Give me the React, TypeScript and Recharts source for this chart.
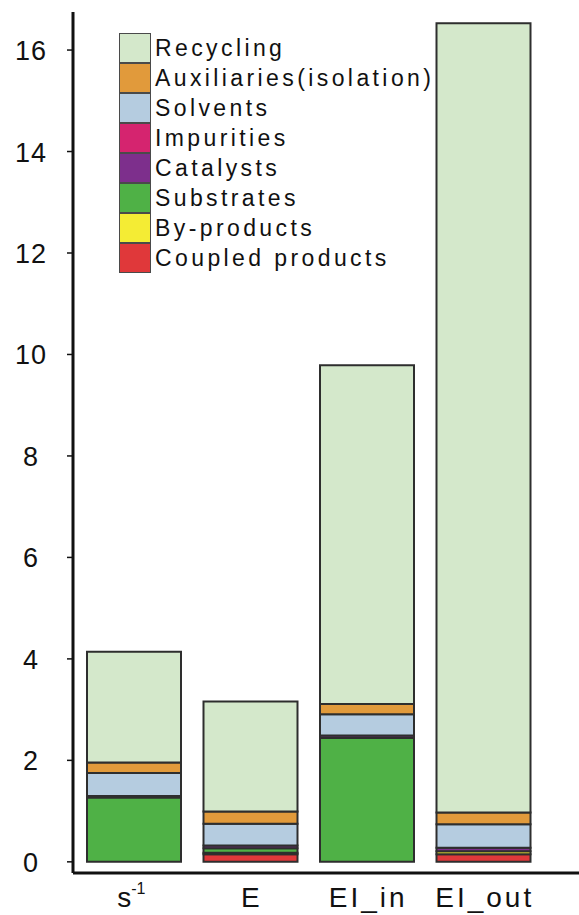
import React from 'react';
import { BarChart, Bar, XAxis, YAxis, Legend } from 'recharts';

const categories = ['s-1', 'E', 'EI_in', 'EI_out'];
const coupledProducts = [0, 0.15, 0, 0.15];
const byProducts = [0, 0.03, 0, 0.06];
const substrates = [1.27, 0.09, 2.44, 0];
const catalysts = [0.03, 0.05, 0.05, 0.07];
const impurities = [0, 0, 0, 0];
const solvents = [0.45, 0.43, 0.42, 0.46];
const auxiliaries = [0.21, 0.24, 0.2, 0.23];
const recycling = [2.18, 2.17, 6.68, 15.56];
const yTicks = [0, 2, 4, 6, 8, 10, 12, 14, 16];

const series = [
  { key: 'coupled', name: 'Coupled products', color: '#e0383a', values: coupledProducts },
  { key: 'by', name: 'By-products', color: '#f4ec34', values: byProducts },
  { key: 'substrates', name: 'Substrates', color: '#4fb146', values: substrates },
  { key: 'catalysts', name: 'Catalysts', color: '#7d2f8c', values: catalysts },
  { key: 'impurities', name: 'Impurities', color: '#d5246f', values: impurities },
  { key: 'solvents', name: 'Solvents', color: '#b5cce0', values: solvents },
  { key: 'aux', name: 'Auxiliaries(isolation)', color: '#e19a3b', values: auxiliaries },
  { key: 'recycling', name: 'Recycling', color: '#d4e8cb', values: recycling },
];

const data = categories.map((c, i) => {
  const row: Record<string, any> = { name: c };
  series.forEach((s) => {
    row[s.key] = s.values[i];
  });
  return row;
});

const FONT = "Arial, 'Liberation Sans', sans-serif";

const XTick = (props: any) => {
  const { x, y, payload } = props;
  const v = payload.value as string;
  if (v === 's-1') {
    return (
      <text x={x - 3} y={y} dy={28} textAnchor="middle" fontFamily={FONT} fontSize={28} fill="#111">
        <tspan>s</tspan>
        <tspan dy={-13} fontSize={16}>-1</tspan>
      </text>
    );
  }
  return (
    <text x={x + 1} y={y} dy={28} textAnchor="middle" fontFamily={FONT} fontSize={28} fill="#111" letterSpacing={3}>
      {v}
    </text>
  );
};

const YTick = (props: any) => {
  const { x, y, payload } = props;
  return (
    <text x={x - 17} y={y} dy={10} textAnchor="middle" fontFamily={FONT} fontSize={27} fill="#111" letterSpacing={1}>
      {payload.value}
    </text>
  );
};

const LegendContent = () => {
  const items = [...series].reverse();
  return (
    <div style={{ fontFamily: FONT }}>
      {items.map((s) => (
        <div key={s.key} style={{ display: 'flex', alignItems: 'center', height: 30 }}>
          <div
            style={{
              width: 32,
              height: 30,
              background: s.color,
              border: '1.5px solid #4a4a4a',
              boxSizing: 'border-box',
            }}
          />
          <span style={{ marginLeft: 4, fontSize: 23, letterSpacing: 3.4, color: '#111', whiteSpace: 'nowrap' }}>
            {s.name}
          </span>
        </div>
      ))}
    </div>
  );
};

export default function App() {
  return (
    <div style={{ position: 'absolute', left: 0, top: 0, background: '#fff' }}>
      <BarChart width={579} height={915} data={data} margin={{ top: 12, right: 0, bottom: 0, left: 0 }}>
        <XAxis
          dataKey="name"
          height={42}
          padding={{ left: 3, right: 37 }}
          tickLine={false}
          tick={<XTick />}
          tickMargin={0}
          axisLine={{ stroke: '#111', strokeWidth: 3 }}
          interval={0}
        />
        <YAxis
          width={73}
          domain={[-0.22, 16.75]}
          ticks={yTicks}
          allowDataOverflow
          tickSize={6}
          tickMargin={19}
          tickLine={{ stroke: '#111', strokeWidth: 1.5 }}
          axisLine={{ stroke: '#111', strokeWidth: 3 }}
          tick={<YTick />}
        />
        <Legend
          layout="vertical"
          align="center"
          verticalAlign="middle"
          content={<LegendContent />}
          wrapperStyle={{ position: 'absolute', left: 119, top: 33, width: 'auto' }}
        />
        {series.map((s) => (
          <Bar
            key={s.key}
            dataKey={s.key}
            name={s.name}
            stackId="a"
            fill={s.color}
            stroke="#2e2e2e"
            strokeWidth={2}
            barSize={94}
            isAnimationActive={false}
          />
        ))}
      </BarChart>
    </div>
  );
}
